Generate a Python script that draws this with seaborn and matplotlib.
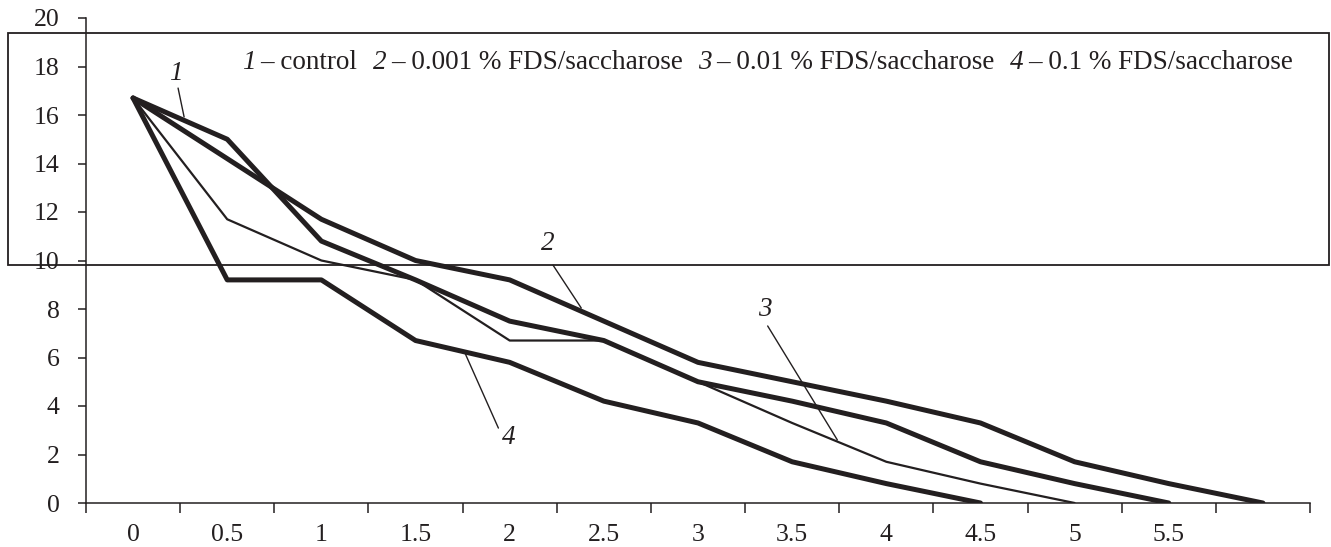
import matplotlib
matplotlib.use("Agg")
import matplotlib.pyplot as plt
import seaborn as sns
import pandas as pd
from matplotlib.patches import Rectangle

# ---------------- data ----------------
categories = ["0", "0.5", "1", "1.5", "2", "2.5", "3", "3.5", "4", "4.5", "5", "5.5", ""]
s1_control = [16.7, 15.0, 10.8, 9.2, 7.5, 6.7, 5.0, 4.2, 3.3, 1.7, 0.8, 0.0]
s2_0001 = [16.7, 14.2, 11.7, 10.0, 9.2, 7.5, 5.8, 5.0, 4.2, 3.3, 1.7, 0.8, 0.0]
s3_001 = [16.7, 11.7, 10.0, 9.2, 6.7, 6.7, 5.0, 3.3, 1.7, 0.8, 0.0]
s4_01 = [16.7, 9.2, 9.2, 6.7, 5.8, 4.2, 3.3, 1.7, 0.8, 0.0]
series_names = ["1", "2", "3", "4"]
legend_labels = ["control", "0.001 % FDS/saccharose", "0.01 % FDS/saccharose", "0.1 % FDS/saccharose"]
y_ticks = [0, 2, 4, 6, 8, 10, 12, 14, 16, 18, 20]

series_values = [s1_control, s2_0001, s3_001, s4_01]
widths = {"1": 3.6, "2": 3.6, "3": 1.6, "4": 3.6}

rows = []
for name, vals in zip(series_names, series_values):
    for i, v in enumerate(vals):
        rows.append({"series": name, "pos": i, "value": v})
df = pd.DataFrame(rows)

# ---------------- style ----------------
sns.set_theme(style="ticks")
plt.rcParams["font.family"] = ["Liberation Serif", "DejaVu Serif"]
INK = "#231f20"
plt.rcParams.update({
    "axes.edgecolor": INK, "xtick.color": INK, "ytick.color": INK,
    "text.color": INK, "axes.labelcolor": INK,
})
FS = 18.5
FS_LEG = 19.5

W, H = 1331, 547
fig = plt.figure(figsize=(W / 100, H / 100), dpi=100)
ax = fig.add_axes([86 / W, 1 - 503 / H, (1310 - 86) / W, (503 - 18) / H])

for name in series_names:
    sub = df[df["series"] == name]
    sns.lineplot(data=sub, x="pos", y="value", ax=ax, color=INK,
                 linewidth=widths[name], sort=False, estimator=None,
                 solid_joinstyle="round", solid_capstyle="round", legend=False)

ax.set_xlim(-0.5, len(categories) - 0.5)
ax.set_ylim(0, 20)
ax.set_yticks(y_ticks)
ax.set_yticklabels([str(t) for t in y_ticks], fontsize=FS)
# major ticks at category boundaries, labels at centres
ax.set_xticks([i - 0.5 for i in range(len(categories) + 1)])
ax.set_xticklabels([])
ax.set_xticks(range(len(categories)), minor=True)
ax.set_xticklabels(categories, minor=True, fontsize=FS)
ax.tick_params(axis="x", which="major", length=7, width=1.1, direction="out")
ax.tick_params(axis="x", which="minor", length=0, pad=15)
ax.tick_params(axis="y", length=6, width=1.1, direction="out", pad=13)
ax.set_xlabel("")
ax.set_ylabel("")
for sp in ["top", "right"]:
    ax.spines[sp].set_visible(False)
for sp in ["left", "bottom"]:
    ax.spines[sp].set_linewidth(1.1)
ax.patch.set_alpha(0)

# curve labels with leader lines (data coordinates)
curve_labels = [
    ("1", (0.45, 17.7), (0.478, 17.11), (0.542, 15.92)),
    ("2", (4.41, 10.7), (4.46, 9.81), (4.76, 8.04)),
    ("3", (6.71, 8.0), (6.74, 7.30), (7.48, 2.60)),
    ("4", (3.99, 2.72), (3.53, 6.14), (3.88, 3.09)),
]
for lab, tpos, p0, p1 in curve_labels:
    ax.text(tpos[0], tpos[1], lab, fontsize=FS + 1, style="italic", ha="center", va="center")
    ax.plot([p0[0], p1[0]], [p0[1], p1[1]], color=INK, lw=1.0)

# legend frame
fig.patches.append(Rectangle((8 / W, 1 - 265 / H), (1329 - 8) / W, (265 - 33) / H,
                             transform=fig.transFigure, fill=False, edgecolor=INK,
                             linewidth=1.3, zorder=5))

# legend text pieces
fig.canvas.draw()
renderer = fig.canvas.get_renderer()
x = 242
y_base = 1 - 69 / H
gap_px = 15
for k, (num, txt) in enumerate(zip(series_names, legend_labels)):
    t = fig.text(x / W, y_base, num, style="italic", fontsize=FS_LEG, va="baseline")
    x = t.get_window_extent(renderer).x1 + 5
    t2 = fig.text(x / W, y_base, "\u2013 " + txt, fontsize=FS_LEG, va="baseline")
    x = t2.get_window_extent(renderer).x1 + gap_px

fig.savefig("out.png", dpi=100)
